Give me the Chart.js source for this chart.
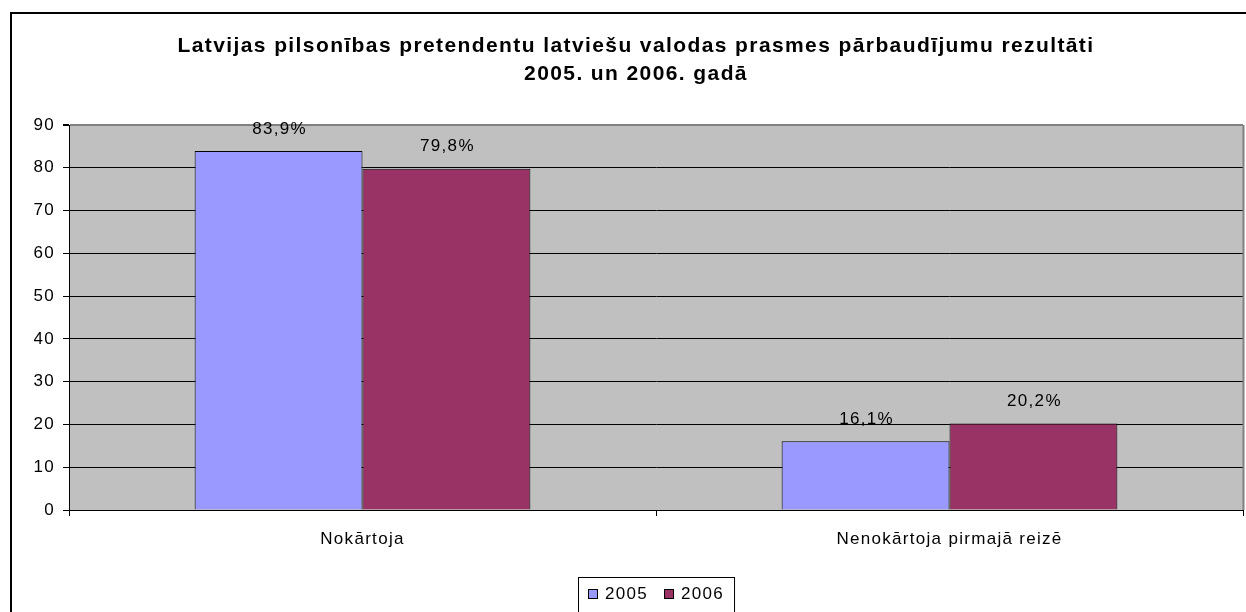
<!DOCTYPE html>
<html>
<head>
<meta charset="utf-8">
<script src="https://cdn.jsdelivr.net/npm/chart.js@4.4.0/dist/chart.umd.min.js"></script>
<style>
  html, body { margin: 0; padding: 0; background: #fff; }
  #wrap { position: relative; width: 1246px; height: 612px; }
</style>
</head>
<body>
<div id="wrap"><canvas id="c" width="1246" height="612"></canvas></div>
<script>
// ---- data ----
const categories = ['Nokārtoja', 'Nenokārtoja pirmajā reizē'];
const seriesNames = ['2005', '2006'];
const values2005 = [83.9, 16.1];
const values2006 = [79.8, 20.2];
const yMin = 0, yMax = 90, yStep = 10;
const titleLines = ['Latvijas pilsonības pretendentu latviešu valodas prasmes pārbaudījumu rezultāti', '2005. un 2006. gadā'];

// ---- style ----
const FONT = '"Liberation Sans", Arial, sans-serif';
const TEXT_SIZE = 17;
const TEXT_LS = '1.3px';
const colors = ['#9999FF', '#993366'];

const framePlugin = {
  id: 'frame',
  beforeDraw(chart) {
    const ctx = chart.ctx;
    ctx.save();
    ctx.fillStyle = '#fff';
    ctx.fillRect(0, 0, chart.width, chart.height);
    ctx.lineWidth = 2;
    ctx.strokeStyle = '#000';
    ctx.strokeRect(11, 13, 1300, 700);
    const a = chart.chartArea;
    ctx.fillStyle = '#C0C0C0';
    ctx.fillRect(a.left, a.top, a.right - a.left, a.bottom - a.top);
    ctx.restore();
    ctx.letterSpacing = TEXT_LS;
  },
  afterDatasetsDraw(chart) {
    const ctx = chart.ctx;
    ctx.save();
    ctx.letterSpacing = TEXT_LS;
    ctx.font = TEXT_SIZE + 'px ' + FONT;
    ctx.fillStyle = '#000';
    ctx.textAlign = 'center';
    ctx.textBaseline = 'middle';
    chart.data.datasets.forEach((ds, i) => {
      const meta = chart.getDatasetMeta(i);
      meta.data.forEach((el, j) => {
        const txt = ds.data[j].toFixed(1).replace('.', ',') + '%';
        ctx.fillText(txt, el.x + 1, el.y - 22);
      });
    });
    ctx.restore();
  },
  afterDraw(chart) {
    const ctx = chart.ctx;
    const a = chart.chartArea;
    ctx.save();
    // plot area right border
    ctx.strokeStyle = '#808080';
    ctx.lineWidth = 2;
    ctx.beginPath();
    ctx.moveTo(a.right + 0.5, a.top);
    ctx.lineTo(a.right + 0.5, a.bottom);
    ctx.stroke();
    // title
    ctx.fillStyle = '#000';
    ctx.font = 'bold 21px ' + FONT;
    ctx.letterSpacing = '1.4px';
    ctx.textAlign = 'center';
    ctx.textBaseline = 'middle';
    titleLines.forEach((t, i) => ctx.fillText(t, 636, 46 + i * 28));
    // legend
    ctx.font = TEXT_SIZE + 'px ' + FONT;
    ctx.letterSpacing = TEXT_LS;
    ctx.textAlign = 'left';
    const padL = 10, sw = 10, gap = 7, itemGap = 16;
    const widths = chart.data.datasets.map(d => ctx.measureText(d.label).width);
    let total = padL * 2;
    widths.forEach((w, i) => { total += sw + gap + w + (i ? itemGap : 0); });
    const cx = (a.left + a.right) / 2;
    let x = Math.round(cx - total / 2);
    const boxTop = 577, cy = 594;
    ctx.strokeStyle = '#000';
    ctx.lineWidth = 1;
    ctx.strokeRect(x + 0.5, boxTop + 0.5, total, 40);
    x += padL;
    chart.data.datasets.forEach((d, i) => {
      if (i) x += itemGap;
      ctx.fillStyle = d.backgroundColor;
      ctx.fillRect(x, cy - 5, sw, sw);
      ctx.strokeRect(x + 0.5, cy - 5 + 0.5, sw - 1, sw - 1);
      x += sw + gap;
      ctx.fillStyle = '#000';
      ctx.fillText(d.label, x, cy);
      x += widths[i];
    });
    ctx.restore();
  }
};

new Chart(document.getElementById('c'), {
  type: 'bar',
  data: {
    labels: categories,
    datasets: [
      { label: seriesNames[0], data: values2005, backgroundColor: colors[0], borderColor: '#000', borderWidth: 1 },
      { label: seriesNames[1], data: values2006, backgroundColor: colors[1], borderColor: '#000', borderWidth: 1 }
    ]
  },
  options: {
    responsive: false,
    animation: false,
    devicePixelRatio: 1,
    layout: { padding: { top: 125, right: 3, bottom: 0, left: 0 } },
    datasets: { bar: { barPercentage: 1.0, categoryPercentage: 0.572 } },
    plugins: {
      legend: { display: false },
      title: { display: false },
      tooltip: { enabled: false }
    },
    scales: {
      x: {
        afterFit(s) { s.height = 102; },
        border: { color: '#000', width: 1 },
        grid: { display: true, drawOnChartArea: false, tickLength: 6, color: '#000', offset: true },
        ticks: { color: '#000', font: { family: FONT, size: TEXT_SIZE }, padding: 13, maxRotation: 0 }
      },
      y: {
        min: yMin, max: yMax,
        afterFit(s) { s.width = 69; },
        border: { color: '#000', width: 1 },
        grid: {
          color: (c) => (c.tick && c.tick.value === yMax ? '#808080' : '#000'),
          lineWidth: (c) => (c.tick && c.tick.value === yMax ? 2 : 1),
          tickColor: '#000',
          tickLength: 6
        },
        ticks: { stepSize: yStep, color: '#000', font: { family: FONT, size: TEXT_SIZE }, padding: 8 }
      }
    }
  },
  plugins: [framePlugin]
});
</script>
</body>
</html>
